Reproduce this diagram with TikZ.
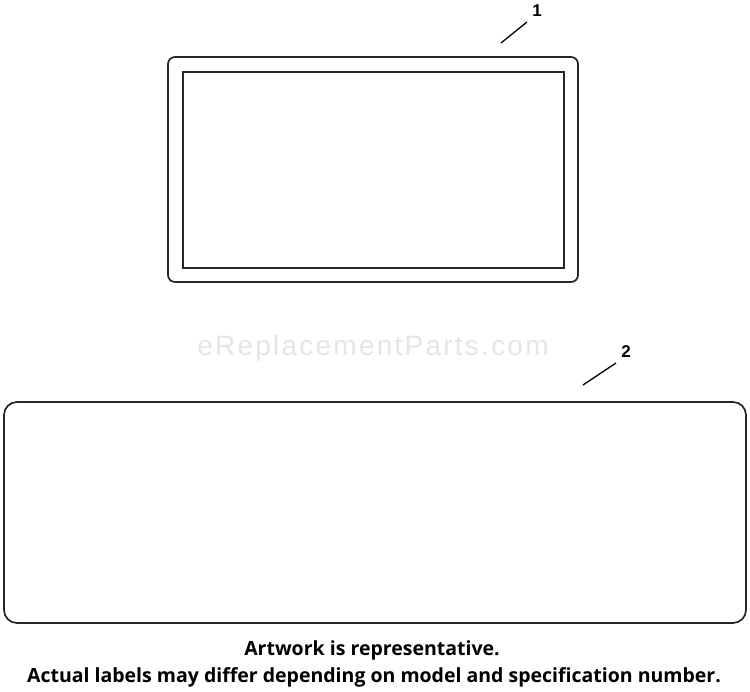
\documentclass[tikz,border=0pt]{standalone}
\usepackage{fontspec}
\setmainfont{Open Sans}
\newfontfamily\markfont{Liberation Sans}
\newfontfamily\waterfont[LetterSpace=8]{Liberation Sans}
\usetikzlibrary{positioning}
\colorlet{edgegray}{black!85}
\colorlet{watergray}{gray!20}

\begin{document}
\begin{tikzpicture}[x=1pt,y=-1pt]
      \useasboundingbox (0,0) rectangle (750,692);
      \tikzset{partline/.style={draw=edgegray,line width=1.7pt},
               callout/.style={font=\markfont\bfseries\fontsize{17}{17}\selectfont,inner sep=1pt},
               leader/.style={draw=black,line width=1.3pt},
               note/.style={font=\bfseries\fontsize{19.5}{19.5}\selectfont,anchor=base,inner sep=0pt}}

      % item 1: framed label
      \draw [partline,rounded corners=7pt] (168,57) rectangle (578,282);
      \draw [partline] (183,72) rectangle (564,268);
      \node [callout] (num1) at (537,11) {1};
      \coordinate (tip1) at (501,43);
      \draw [leader] (527,22) -- (tip1);

      % watermark
      \node [font=\waterfont\fontsize{28}{28}\selectfont,text=watergray] (mark) at (373,348) {eReplacementParts.com};

      % item 2: wide label
      \draw [partline,rounded corners=13pt] (4,402) rectangle (746,623);
      \node [callout] (num2) at (626,352) {2};
      \coordinate (tip2) at (583,385);
      \draw [leader] (616,363) -- (tip2);

      % note
      \node [note] (note1) at (372,655) {Artwork is representative.};
      \node [note] (note2) at (374,682) {Actual labels may differ depending on model and specification number.};

    \end{tikzpicture}
\end{document}
